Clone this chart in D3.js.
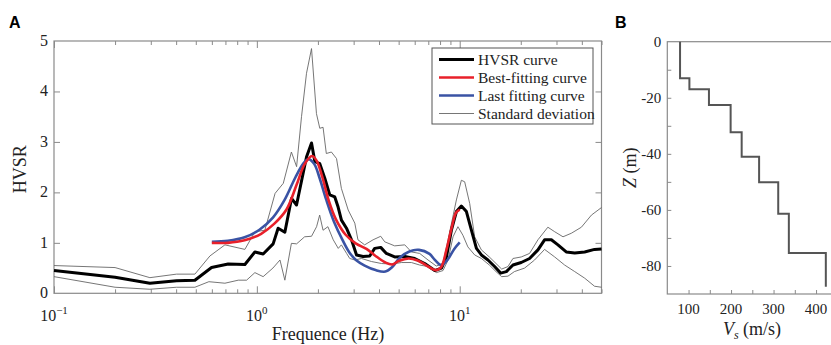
<!DOCTYPE html>
<html><head><meta charset="utf-8">
<script src="https://cdn.jsdelivr.net/npm/d3@7"></script>
<style>
body{margin:0;background:#fff;}
svg{display:block;}
</style></head>
<body>
<svg id="chart" width="831" height="345"></svg>
<script>
// ---------- DATA (panel A) ----------
const hvsrFreq = [0.1,0.2,0.297,0.402,0.495,0.598,0.722,0.873,0.978,1.074,1.203,1.273,1.374,1.482,1.569,1.757,1.86,1.931,2.043,2.162,2.288,2.422,2.515,2.612,2.766,2.928,3.10,3.34,3.60,3.81,4.08,4.35,4.78,5.36,6.00,6.72,7.53,8.13,8.60,9.10,9.63,10.19,10.79,11.42,12.09,12.79,13.78,14.86,15.92,16.98,18.31,20.1,22.1,24.3,26.2,28.3,30.5,33.5,36.9,41.3,46.2,50];
const hvsrVal  = [0.45,0.32,0.20,0.25,0.26,0.51,0.58,0.57,0.82,0.78,0.98,1.29,1.21,1.88,1.75,2.70,2.98,2.61,2.57,2.28,1.95,1.91,1.71,1.45,1.29,1.06,0.76,0.73,0.74,0.89,0.91,0.79,0.72,0.73,0.69,0.59,0.45,0.50,0.72,1.25,1.62,1.73,1.62,1.25,0.89,0.76,0.66,0.53,0.40,0.43,0.56,0.61,0.69,0.86,1.06,1.06,0.96,0.82,0.80,0.82,0.87,0.88];

const upperFreq = [0.1,0.2,0.297,0.402,0.495,0.587,0.696,0.873,0.978,1.095,1.23,1.35,1.48,1.57,1.66,1.757,1.86,1.967,2.043,2.12,2.20,2.33,2.47,2.61,2.82,3.04,3.15,3.40,3.74,4.08,4.27,4.78,5.36,5.78,6.35,6.98,7.67,8.27,8.76,9.63,10.19,10.58,11.2,11.85,12.79,14.0,15.1,16.1,17.3,18.3,20.1,22.1,24.3,27.2,29.4,32.3,35.5,39.8,44.6,50];
const upperVal  = [0.55,0.51,0.31,0.38,0.38,0.74,0.96,0.87,1.22,1.25,1.98,2.18,2.80,2.51,3.50,4.36,4.85,3.56,3.27,3.29,2.77,2.80,2.67,2.08,1.65,1.39,1.06,0.96,1.06,1.13,1.02,0.94,0.96,0.82,0.79,0.66,0.54,0.59,1.06,1.85,2.24,2.21,1.78,1.12,0.86,0.72,0.59,0.48,0.53,0.69,0.72,0.79,1.06,1.31,1.22,1.12,1.19,1.31,1.55,1.70];

const lowerFreq = [0.1,0.2,0.297,0.402,0.495,0.58,0.696,0.81,0.89,0.978,1.074,1.20,1.30,1.374,1.48,1.57,1.72,1.86,1.97,2.04,2.12,2.24,2.38,2.52,2.61,2.77,2.87,3.04,3.28,3.67,4.12,4.61,5.17,5.78,6.35,6.98,7.67,8.27,8.76,9.27,9.80,10.37,10.97,11.85,12.79,14.0,15.1,16.1,17.3,18.6,20.9,23.4,26.2,29.4,32.9,36.9,41.3,46.2,50];
const lowerVal  = [0.33,0.12,0.08,0.12,0.12,0.23,0.20,0.26,0.26,0.41,0.33,0.50,0.66,0.26,0.99,0.98,1.12,1.13,1.32,1.55,1.25,1.32,1.06,0.89,0.96,0.79,0.69,0.66,0.69,0.63,0.59,0.58,0.61,0.61,0.56,0.53,0.41,0.45,0.66,1.12,1.32,1.15,0.92,0.76,0.69,0.56,0.43,0.33,0.34,0.43,0.50,0.66,0.87,0.72,0.56,0.43,0.30,0.14,0.12];

const bestFreq = [0.6,0.72,0.87,1.05,1.22,1.40,1.57,1.72,1.87,1.97,2.10,2.26,2.45,2.74,3.07,3.47,3.82,4.3,4.65,5.0,5.6,6.2,6.8,7.6,8.1,8.6,9.1,9.6,10.0];
const bestVal  = [1.00,1.00,1.05,1.18,1.38,1.66,2.15,2.56,2.72,2.63,2.31,1.84,1.47,1.16,0.99,0.88,0.75,0.61,0.57,0.64,0.69,0.65,0.56,0.46,0.52,0.86,1.28,1.60,1.66];

const lastFreq = [0.6,0.72,0.87,1.03,1.20,1.37,1.55,1.70,1.80,1.92,2.04,2.20,2.40,2.65,2.87,3.1,3.4,3.85,4.3,4.65,5.05,5.65,6.3,7.1,7.55,8.1,8.7,9.4,10.0];
const lastVal  = [1.02,1.04,1.11,1.26,1.50,1.85,2.30,2.58,2.66,2.56,2.28,1.85,1.42,1.05,0.80,0.65,0.55,0.46,0.43,0.52,0.70,0.83,0.86,0.78,0.66,0.56,0.66,0.88,1.01];

const legendLabels = ["HVSR curve","Best-fitting curve","Last fitting curve","Standard deviation"];
const yTicksA = [0,1,2,3,4,5];
const xMajorA = [0.1,1,10];

// ---------- DATA (panel B) ----------
const layerVs    = [80,102,148,199,225,266,311,336,423];
const layerDepth = [0,13,17,22.6,32.3,41,50.1,61.4,75.4,87.4]; // boundaries (m)
const xTicksB = [100,200,300,400];
const yTicksB = [0,-20,-40,-60,-80];

// ---------- DRAW ----------
const SERIF = "'Liberation Serif','Times New Roman','DejaVu Serif',serif";
const SANS = "'Liberation Sans',Arial,sans-serif";
const svg = d3.select("#chart").attr("font-family", SERIF);
const axisCol = "#8a8a8a";
const txtCol = "#222";

// Panel A
const A = {l:54, r:601.5, t:41, b:293.3};
const x = d3.scaleLog().domain([0.1,50]).range([A.l,A.r]);
const y = d3.scaleLinear().domain([0,5]).range([A.b,A.t]);

const gA = svg.append("g");
gA.append("rect").attr("x",A.l).attr("y",A.t).attr("width",A.r-A.l).attr("height",A.b-A.t)
  .attr("fill","none").attr("stroke",axisCol).attr("stroke-width",1.2);

const allTicks = x.ticks().filter(v=>v<=50);
const minorTicks = allTicks.filter(v=>!xMajorA.includes(+v.toPrecision(3)));
function tickAxes(g, gen, size){ g.call(gen.tickSize(size).tickSizeOuter(0)); g.select(".domain").remove(); g.selectAll("line").attr("stroke",axisCol).attr("stroke-width",1); g.selectAll("text").remove(); }

tickAxes(gA.append("g").attr("transform",`translate(0,${A.b})`), d3.axisBottom(x).tickValues(minorTicks), -4);
tickAxes(gA.append("g").attr("transform",`translate(0,${A.b})`), d3.axisBottom(x).tickValues(xMajorA), -7);
tickAxes(gA.append("g").attr("transform",`translate(0,${A.t})`), d3.axisTop(x).tickValues(minorTicks), -4);
tickAxes(gA.append("g").attr("transform",`translate(0,${A.t})`), d3.axisTop(x).tickValues(xMajorA), -7);
tickAxes(gA.append("g").attr("transform",`translate(${A.l},0)`), d3.axisLeft(y).tickValues(yTicksA.slice(1,5)), -6);
tickAxes(gA.append("g").attr("transform",`translate(${A.r},0)`), d3.axisRight(y).tickValues(yTicksA.slice(1,5)), -6);

gA.selectAll(".ylab").data(yTicksA).enter().append("text")
  .attr("x",A.l-6).attr("y",d=>y(d)+5).attr("text-anchor","end").attr("fill",txtCol)
  .attr("font-family",SERIF).attr("font-size",16).text(d=>d);
const xl = gA.selectAll(".xlab").data(xMajorA).enter().append("text")
  .attr("x",d=>x(d)).attr("y",A.b+28).attr("text-anchor","middle").attr("fill",txtCol)
  .attr("font-family",SERIF).attr("font-size",16);
xl.append("tspan").text("10");
xl.append("tspan").attr("dy",-7).attr("font-size",11).text(d=>String(Math.round(Math.log10(d))).replace("-","\u2212"));

gA.append("text").attr("transform",`translate(26,${(A.t+A.b)/2+2}) rotate(-90)`).attr("fill",txtCol)
  .attr("text-anchor","middle").attr("font-family",SERIF).attr("font-size",18).text("HVSR");
gA.append("text").attr("x",328).attr("y",340).attr("text-anchor","middle").attr("fill",txtCol)
  .attr("font-family",SERIF).attr("font-size",18).text("Frequence (Hz)");

const lineGen = d3.line().x(d=>x(d[0])).y(d=>y(d[1]));
const smoothGen = d3.line().x(d=>x(d[0])).y(d=>y(d[1])).curve(d3.curveCatmullRom.alpha(0.5));
const zip = (a,b)=>a.map((v,i)=>[v,b[i]]);

gA.append("path").datum(zip(upperFreq,upperVal)).attr("d",lineGen).attr("fill","none").attr("stroke","#666").attr("stroke-width",0.9);
gA.append("path").datum(zip(lowerFreq,lowerVal)).attr("d",lineGen).attr("fill","none").attr("stroke","#666").attr("stroke-width",0.9);
gA.append("path").datum(zip(hvsrFreq,hvsrVal)).attr("d",lineGen).attr("fill","none").attr("stroke","#000").attr("stroke-width",3).attr("stroke-linejoin","round");
gA.append("path").datum(zip(lastFreq,lastVal)).attr("d",smoothGen).attr("fill","none").attr("stroke","#3a53a4").attr("stroke-width",2.6);
gA.append("path").datum(zip(bestFreq,bestVal)).attr("d",smoothGen).attr("fill","none").attr("stroke","#e8202a").attr("stroke-width",2.6);

const L = {x:432, y:48, w:161, h:76};
gA.append("rect").attr("x",L.x).attr("y",L.y).attr("width",L.w).attr("height",L.h)
  .attr("fill","#fff").attr("stroke","#555").attr("stroke-width",1);
const legStyles = [["#000",3],["#e8202a",2.6],["#3a53a4",2.6],["#666",0.9]];
legendLabels.forEach((lab,i)=>{
  const yy = L.y+11.5+i*18;
  gA.append("line").attr("x1",L.x+7).attr("x2",L.x+42).attr("y1",yy).attr("y2",yy)
    .attr("stroke",legStyles[i][0]).attr("stroke-width",legStyles[i][1]);
  gA.append("text").attr("x",L.x+46).attr("y",yy+5).attr("fill",txtCol)
    .attr("font-family",SERIF).attr("font-size",15.5).text(lab);
});

svg.append("text").attr("x",9).attr("y",28).attr("font-weight","bold").attr("font-size",16).attr("font-family",SANS).text("A");
svg.append("text").attr("x",615).attr("y",28).attr("font-weight","bold").attr("font-size",16).attr("font-family",SANS).text("B");

// Panel B
const B = {l:667.3, r:837.3, t:41.7, b:294};
const xb = d3.scaleLinear().domain([50,450]).range([B.l,B.r]);
const yb = d3.scaleLinear().domain([-90,0]).range([B.b,B.t]);
const gB = svg.append("g");
gB.append("rect").attr("x",B.l).attr("y",B.t).attr("width",B.r-B.l).attr("height",B.b-B.t)
  .attr("fill","none").attr("stroke",axisCol).attr("stroke-width",1.2);
tickAxes(gB.append("g").attr("transform",`translate(0,${B.b})`), d3.axisBottom(xb).tickValues(d3.range(100,451,50)), -4);
tickAxes(gB.append("g").attr("transform",`translate(${B.l},0)`), d3.axisLeft(yb).tickValues(d3.range(-80,0,10)), -4);
gB.selectAll(".xb").data(xTicksB).enter().append("text").attr("x",d=>xb(d)).attr("y",B.b+20)
  .attr("text-anchor","middle").attr("fill",txtCol).attr("font-family",SERIF).attr("font-size",15).text(d=>d);
gB.selectAll(".yb").data(yTicksB).enter().append("text").attr("x",B.l-6).attr("y",d=>yb(d)+5)
  .attr("text-anchor","end").attr("fill",txtCol).attr("font-family",SERIF).attr("font-size",15).text(d=>d);
const stepPts = [];
layerVs.forEach((v,i)=>{ stepPts.push([v,-layerDepth[i]]); stepPts.push([v,-layerDepth[i+1]]); });
gB.append("path").datum(stepPts).attr("d",d3.line().x(d=>xb(d[0])).y(d=>yb(d[1])))
  .attr("fill","none").attr("stroke","#555").attr("stroke-width",2);
const zl = gB.append("text").attr("transform",`translate(636,${(B.t+B.b)/2}) rotate(-90)`)
  .attr("text-anchor","middle").attr("fill",txtCol).attr("font-family",SERIF).attr("font-size",18);
zl.append("tspan").attr("font-style","italic").text("Z");
zl.append("tspan").text(" (m)");
const vl = gB.append("text").attr("x",752).attr("y",335).attr("text-anchor","middle").attr("fill",txtCol)
  .attr("font-family",SERIF).attr("font-size",18);
vl.append("tspan").attr("font-style","italic").text("V");
vl.append("tspan").attr("font-style","italic").attr("font-size",12).attr("dy",4).text("s");
vl.append("tspan").attr("dy",-4).text(" (m/s)");
</script>
</body></html>
